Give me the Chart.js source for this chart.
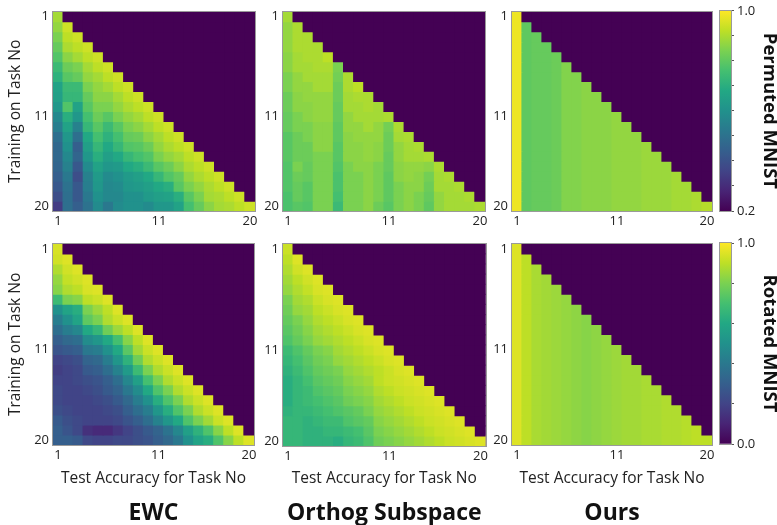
<!DOCTYPE html>
<html>
<head>
<meta charset="utf-8">
<script src="https://cdn.jsdelivr.net/npm/chart.js@4.4.1/dist/chart.umd.min.js"></script>
<style>
  html, body { margin: 0; padding: 0; background: #fff; overflow: hidden; }
  #wrap { position: relative; width: 777px; height: 525px; }
  canvas { position: absolute; }
</style>
</head>
<body>
<div id="wrap"></div>
<script>
// task numbers on both axes
const tasks = ['1','2','3','4','5','6','7','8','9','10','11','12','13','14','15','16','17','18','19','20'];
const shownTicks = ['1', '11', '20'];

// colour ranges of the two rows
const permutedRange = [0.2, 1.0];
const rotatedRange = [0.0, 1.0];

// accuracy matrices: row = training on task i, column = test on task j (j <= i)
const ewcPermuted = [
  [0.89],
  [0.87, 0.94],
  [0.84, 0.92, 0.94],
  [0.81, 0.90, 0.92, 0.94],
  [0.78, 0.86, 0.89, 0.92, 0.94],
  [0.74, 0.82, 0.84, 0.89, 0.92, 0.94],
  [0.71, 0.79, 0.81, 0.87, 0.89, 0.92, 0.94],
  [0.66, 0.74, 0.74, 0.84, 0.87, 0.89, 0.92, 0.94],
  [0.65, 0.73, 0.73, 0.81, 0.86, 0.86, 0.89, 0.92, 0.94],
  [0.62, 0.78, 0.66, 0.79, 0.84, 0.84, 0.87, 0.90, 0.92, 0.94],
  [0.57, 0.70, 0.62, 0.76, 0.82, 0.79, 0.84, 0.87, 0.89, 0.92, 0.94],
  [0.54, 0.66, 0.55, 0.73, 0.79, 0.74, 0.79, 0.84, 0.86, 0.89, 0.92, 0.94],
  [0.49, 0.62, 0.49, 0.68, 0.76, 0.71, 0.76, 0.81, 0.82, 0.86, 0.89, 0.92, 0.94],
  [0.47, 0.60, 0.44, 0.65, 0.73, 0.68, 0.73, 0.78, 0.79, 0.82, 0.87, 0.90, 0.92, 0.94],
  [0.47, 0.57, 0.46, 0.62, 0.70, 0.65, 0.68, 0.73, 0.76, 0.78, 0.84, 0.87, 0.89, 0.92, 0.94],
  [0.46, 0.55, 0.42, 0.58, 0.66, 0.62, 0.63, 0.68, 0.70, 0.74, 0.79, 0.82, 0.86, 0.90, 0.92, 0.94],
  [0.44, 0.52, 0.39, 0.55, 0.63, 0.58, 0.60, 0.63, 0.65, 0.68, 0.73, 0.78, 0.81, 0.87, 0.90, 0.92, 0.94],
  [0.42, 0.50, 0.42, 0.54, 0.62, 0.57, 0.58, 0.62, 0.63, 0.65, 0.68, 0.70, 0.79, 0.84, 0.87, 0.90, 0.92, 0.94],
  [0.39, 0.49, 0.42, 0.52, 0.60, 0.57, 0.57, 0.60, 0.60, 0.63, 0.65, 0.66, 0.70, 0.79, 0.84, 0.89, 0.90, 0.92, 0.94],
  [0.34, 0.49, 0.44, 0.50, 0.58, 0.52, 0.58, 0.60, 0.60, 0.58, 0.62, 0.62, 0.66, 0.76, 0.81, 0.86, 0.89, 0.90, 0.92, 0.94]
];

const orthogPermuted = [
  [0.89],
  [0.87, 0.90],
  [0.87, 0.90, 0.90],
  [0.87, 0.90, 0.90, 0.90],
  [0.86, 0.89, 0.90, 0.90, 0.92],
  [0.86, 0.89, 0.89, 0.90, 0.90, 0.84],
  [0.84, 0.87, 0.89, 0.89, 0.89, 0.83, 0.90],
  [0.84, 0.87, 0.87, 0.89, 0.89, 0.82, 0.90, 0.92],
  [0.82, 0.86, 0.87, 0.87, 0.87, 0.82, 0.89, 0.90, 0.90],
  [0.82, 0.86, 0.86, 0.87, 0.87, 0.81, 0.89, 0.89, 0.90, 0.89],
  [0.81, 0.84, 0.86, 0.87, 0.87, 0.81, 0.87, 0.89, 0.89, 0.89, 0.90],
  [0.81, 0.84, 0.84, 0.86, 0.86, 0.80, 0.87, 0.87, 0.89, 0.87, 0.83, 0.90],
  [0.79, 0.82, 0.84, 0.86, 0.86, 0.80, 0.86, 0.87, 0.87, 0.87, 0.82, 0.89, 0.90],
  [0.79, 0.82, 0.82, 0.86, 0.86, 0.79, 0.86, 0.86, 0.87, 0.86, 0.82, 0.87, 0.89, 0.90],
  [0.79, 0.82, 0.82, 0.84, 0.84, 0.79, 0.86, 0.86, 0.87, 0.86, 0.81, 0.87, 0.89, 0.89, 0.90],
  [0.78, 0.84, 0.81, 0.84, 0.84, 0.78, 0.84, 0.86, 0.86, 0.84, 0.81, 0.86, 0.87, 0.87, 0.86, 0.90],
  [0.78, 0.82, 0.81, 0.84, 0.84, 0.77, 0.84, 0.84, 0.86, 0.84, 0.80, 0.86, 0.87, 0.86, 0.83, 0.89, 0.90],
  [0.78, 0.81, 0.79, 0.84, 0.84, 0.77, 0.84, 0.84, 0.86, 0.84, 0.80, 0.84, 0.86, 0.86, 0.82, 0.89, 0.89, 0.90],
  [0.77, 0.81, 0.79, 0.84, 0.84, 0.76, 0.84, 0.84, 0.86, 0.84, 0.80, 0.84, 0.86, 0.84, 0.81, 0.87, 0.89, 0.89, 0.90],
  [0.77, 0.79, 0.78, 0.84, 0.84, 0.74, 0.84, 0.84, 0.86, 0.82, 0.79, 0.84, 0.86, 0.84, 0.80, 0.87, 0.89, 0.89, 0.89, 0.90]
];

const oursPermuted = [
  [0.98],
  [0.98, 0.80],
  [0.98, 0.80, 0.81],
  [0.98, 0.80, 0.81, 0.81],
  [0.98, 0.80, 0.81, 0.81, 0.82],
  [0.98, 0.80, 0.81, 0.81, 0.82, 0.85],
  [0.98, 0.80, 0.81, 0.81, 0.82, 0.85, 0.85],
  [0.98, 0.80, 0.81, 0.81, 0.82, 0.85, 0.85, 0.86],
  [0.98, 0.80, 0.81, 0.81, 0.82, 0.85, 0.85, 0.86, 0.86],
  [0.98, 0.80, 0.81, 0.81, 0.82, 0.85, 0.85, 0.86, 0.86, 0.86],
  [0.98, 0.80, 0.81, 0.81, 0.82, 0.85, 0.85, 0.86, 0.86, 0.86, 0.87],
  [0.98, 0.80, 0.81, 0.81, 0.82, 0.85, 0.85, 0.86, 0.86, 0.86, 0.87, 0.87],
  [0.98, 0.80, 0.81, 0.81, 0.82, 0.85, 0.85, 0.86, 0.86, 0.86, 0.87, 0.87, 0.87],
  [0.98, 0.80, 0.81, 0.81, 0.82, 0.85, 0.85, 0.86, 0.86, 0.86, 0.87, 0.87, 0.87, 0.88],
  [0.98, 0.80, 0.81, 0.81, 0.82, 0.85, 0.85, 0.86, 0.86, 0.86, 0.87, 0.87, 0.87, 0.88, 0.88],
  [0.98, 0.80, 0.81, 0.81, 0.82, 0.85, 0.85, 0.86, 0.86, 0.86, 0.87, 0.87, 0.87, 0.88, 0.88, 0.88],
  [0.98, 0.80, 0.81, 0.81, 0.82, 0.85, 0.85, 0.86, 0.86, 0.86, 0.87, 0.87, 0.87, 0.88, 0.88, 0.88, 0.89],
  [0.98, 0.80, 0.81, 0.81, 0.82, 0.85, 0.85, 0.86, 0.86, 0.86, 0.87, 0.87, 0.87, 0.88, 0.88, 0.88, 0.89, 0.89],
  [0.98, 0.80, 0.81, 0.81, 0.82, 0.85, 0.85, 0.86, 0.86, 0.86, 0.87, 0.87, 0.87, 0.88, 0.88, 0.88, 0.89, 0.89, 0.90],
  [0.98, 0.80, 0.81, 0.81, 0.82, 0.85, 0.85, 0.86, 0.86, 0.86, 0.87, 0.87, 0.87, 0.88, 0.88, 0.88, 0.89, 0.89, 0.90, 0.91]
];

const ewcRotated = [
  [0.94],
  [0.93, 0.95],
  [0.88, 0.93, 0.95],
  [0.84, 0.91, 0.93, 0.95],
  [0.82, 0.88, 0.90, 0.94, 0.95],
  [0.68, 0.80, 0.82, 0.90, 0.92, 0.95],
  [0.50, 0.58, 0.62, 0.80, 0.85, 0.90, 0.95],
  [0.42, 0.50, 0.58, 0.75, 0.80, 0.88, 0.92, 0.95],
  [0.36, 0.42, 0.46, 0.60, 0.66, 0.78, 0.85, 0.90, 0.95],
  [0.30, 0.34, 0.36, 0.48, 0.52, 0.60, 0.70, 0.82, 0.90, 0.95],
  [0.26, 0.28, 0.30, 0.40, 0.42, 0.50, 0.60, 0.74, 0.86, 0.92, 0.95],
  [0.20, 0.22, 0.24, 0.32, 0.34, 0.42, 0.52, 0.64, 0.78, 0.88, 0.92, 0.95],
  [0.18, 0.20, 0.22, 0.28, 0.30, 0.36, 0.44, 0.54, 0.68, 0.80, 0.88, 0.92, 0.95],
  [0.20, 0.20, 0.22, 0.24, 0.26, 0.30, 0.36, 0.46, 0.56, 0.70, 0.80, 0.88, 0.92, 0.95],
  [0.22, 0.20, 0.20, 0.22, 0.24, 0.28, 0.32, 0.40, 0.48, 0.60, 0.72, 0.80, 0.88, 0.92, 0.95],
  [0.22, 0.20, 0.20, 0.20, 0.22, 0.24, 0.28, 0.34, 0.42, 0.50, 0.62, 0.72, 0.80, 0.88, 0.92, 0.95],
  [0.24, 0.22, 0.20, 0.20, 0.20, 0.22, 0.24, 0.30, 0.36, 0.42, 0.52, 0.62, 0.72, 0.80, 0.88, 0.92, 0.95],
  [0.28, 0.24, 0.22, 0.20, 0.20, 0.20, 0.22, 0.26, 0.30, 0.36, 0.44, 0.52, 0.60, 0.72, 0.80, 0.86, 0.92, 0.95],
  [0.30, 0.26, 0.22, 0.14, 0.12, 0.12, 0.16, 0.20, 0.24, 0.28, 0.32, 0.38, 0.46, 0.56, 0.64, 0.72, 0.82, 0.90, 0.95],
  [0.30, 0.30, 0.28, 0.22, 0.20, 0.20, 0.22, 0.22, 0.24, 0.26, 0.30, 0.34, 0.40, 0.50, 0.58, 0.62, 0.72, 0.82, 0.90, 0.95]
];

const orthogRotated = [
  [0.92],
  [0.90, 0.95],
  [0.88, 0.93, 0.95],
  [0.86, 0.90, 0.93, 0.95],
  [0.84, 0.88, 0.91, 0.94, 0.95],
  [0.80, 0.86, 0.88, 0.92, 0.94, 0.95],
  [0.78, 0.84, 0.86, 0.90, 0.92, 0.94, 0.95],
  [0.76, 0.80, 0.84, 0.88, 0.90, 0.92, 0.94, 0.95],
  [0.74, 0.78, 0.82, 0.86, 0.88, 0.90, 0.92, 0.94, 0.95],
  [0.72, 0.76, 0.80, 0.84, 0.86, 0.88, 0.90, 0.92, 0.94, 0.95],
  [0.68, 0.72, 0.76, 0.80, 0.82, 0.86, 0.88, 0.90, 0.92, 0.94, 0.95],
  [0.66, 0.70, 0.74, 0.78, 0.80, 0.84, 0.86, 0.88, 0.90, 0.92, 0.94, 0.95],
  [0.64, 0.68, 0.72, 0.76, 0.78, 0.80, 0.84, 0.86, 0.88, 0.90, 0.92, 0.94, 0.95],
  [0.62, 0.66, 0.70, 0.74, 0.76, 0.78, 0.82, 0.84, 0.86, 0.90, 0.92, 0.93, 0.94, 0.95],
  [0.62, 0.66, 0.68, 0.72, 0.74, 0.76, 0.80, 0.82, 0.84, 0.88, 0.90, 0.92, 0.93, 0.94, 0.95],
  [0.62, 0.66, 0.68, 0.70, 0.72, 0.74, 0.78, 0.80, 0.82, 0.86, 0.88, 0.90, 0.92, 0.93, 0.94, 0.95],
  [0.64, 0.66, 0.66, 0.68, 0.70, 0.72, 0.74, 0.76, 0.80, 0.84, 0.86, 0.88, 0.90, 0.92, 0.93, 0.94, 0.95],
  [0.66, 0.66, 0.64, 0.66, 0.68, 0.68, 0.72, 0.74, 0.76, 0.82, 0.84, 0.86, 0.88, 0.90, 0.92, 0.93, 0.94, 0.95],
  [0.66, 0.66, 0.64, 0.64, 0.66, 0.66, 0.68, 0.70, 0.74, 0.80, 0.82, 0.84, 0.86, 0.88, 0.90, 0.92, 0.93, 0.94, 0.95],
  [0.66, 0.66, 0.64, 0.64, 0.64, 0.62, 0.66, 0.68, 0.72, 0.78, 0.80, 0.82, 0.84, 0.86, 0.88, 0.90, 0.92, 0.93, 0.94, 0.95]
];

const oursRotated = [
  [0.95],
  [0.95, 0.90],
  [0.95, 0.90, 0.87],
  [0.95, 0.90, 0.87, 0.86],
  [0.95, 0.90, 0.87, 0.86, 0.85],
  [0.95, 0.90, 0.87, 0.86, 0.85, 0.84],
  [0.95, 0.90, 0.87, 0.86, 0.85, 0.84, 0.83],
  [0.95, 0.90, 0.87, 0.86, 0.85, 0.84, 0.83, 0.82],
  [0.95, 0.90, 0.87, 0.86, 0.85, 0.84, 0.83, 0.82, 0.83],
  [0.95, 0.90, 0.87, 0.86, 0.85, 0.84, 0.83, 0.82, 0.83, 0.84],
  [0.95, 0.90, 0.87, 0.86, 0.85, 0.84, 0.83, 0.82, 0.83, 0.84, 0.85],
  [0.95, 0.90, 0.87, 0.86, 0.85, 0.84, 0.83, 0.82, 0.83, 0.84, 0.85, 0.86],
  [0.95, 0.90, 0.87, 0.86, 0.85, 0.84, 0.83, 0.82, 0.83, 0.84, 0.85, 0.86, 0.86],
  [0.95, 0.90, 0.87, 0.86, 0.85, 0.84, 0.83, 0.82, 0.83, 0.84, 0.85, 0.86, 0.86, 0.87],
  [0.95, 0.90, 0.87, 0.86, 0.85, 0.84, 0.83, 0.82, 0.83, 0.84, 0.85, 0.86, 0.86, 0.87, 0.87],
  [0.95, 0.90, 0.87, 0.86, 0.85, 0.84, 0.83, 0.82, 0.83, 0.84, 0.85, 0.86, 0.86, 0.87, 0.87, 0.88],
  [0.95, 0.90, 0.87, 0.86, 0.85, 0.84, 0.83, 0.82, 0.83, 0.84, 0.85, 0.86, 0.86, 0.87, 0.87, 0.88, 0.88],
  [0.95, 0.90, 0.87, 0.86, 0.85, 0.84, 0.83, 0.82, 0.83, 0.84, 0.85, 0.86, 0.86, 0.87, 0.87, 0.88, 0.88, 0.89],
  [0.95, 0.90, 0.87, 0.86, 0.85, 0.84, 0.83, 0.82, 0.83, 0.84, 0.85, 0.86, 0.86, 0.87, 0.87, 0.88, 0.88, 0.89, 0.90],
  [0.95, 0.90, 0.87, 0.86, 0.85, 0.84, 0.83, 0.82, 0.83, 0.84, 0.85, 0.86, 0.86, 0.87, 0.87, 0.88, 0.88, 0.89, 0.90, 0.90]
];

// viridis colour map
const viridisStops = ['#440154','#482475','#414487','#355f8d','#2a788e','#21918c','#22a884','#44bf70','#7ad151','#bddf26','#fde725'];
function hexRgb(h) {
  return [parseInt(h.slice(1,3),16), parseInt(h.slice(3,5),16), parseInt(h.slice(5,7),16)];
}
function viridis(t) {
  t = Math.min(1, Math.max(0, t));
  const p = t * 10;
  const i = Math.min(9, Math.floor(p));
  const f = p - i;
  const a = hexRgb(viridisStops[i]), b = hexRgb(viridisStops[i + 1]);
  const c = a.map((v, k) => Math.round(v + (b[k] - v) * f));
  return 'rgb(' + c.join(',') + ')';
}
function cellColor(v, range) {
  if (v === undefined || v === null) return viridis(0);
  return viridis((v - range[0]) / (range[1] - range[0]));
}

Chart.defaults.font.family = "'Open Sans', sans-serif";
Chart.defaults.color = '#222';
Chart.defaults.animation = false;
Chart.defaults.plugins.legend.display = false;
Chart.defaults.plugins.tooltip.enabled = false;

// dark fill behind the cells, thin grey frame round the plotting area
const framePlugin = {
  id: 'frame',
  beforeDatasetsDraw(chart, args, opts) {
    if (!opts.fill) return;
    const a = chart.chartArea, c = chart.ctx;
    c.save();
    c.fillStyle = opts.fill;
    c.fillRect(a.left, a.top, a.right - a.left, a.bottom - a.top);
    c.restore();
  },
  afterDatasetsDraw(chart) {
    const a = chart.chartArea, c = chart.ctx;
    c.save();
    c.strokeStyle = '#9a9a9a';
    c.lineWidth = 1;
    c.strokeRect(Math.round(a.left) - 0.5, Math.round(a.top) - 0.5, Math.round(a.right - a.left) + 1, Math.round(a.bottom - a.top) + 1);
    c.restore();
  }
};

const wrap = document.getElementById('wrap');
function addCanvas(left, top, w, h) {
  const cv = document.createElement('canvas');
  cv.width = w; cv.height = h;
  cv.style.left = left + 'px'; cv.style.top = top + 'px';
  cv.style.width = w + 'px'; cv.style.height = h + 'px';
  wrap.appendChild(cv);
  return cv;
}

function heatmap(p) {
  const cv = addCanvas(p.left, p.top, p.w, p.h);
  const datasets = tasks.map((t, r) => ({
    data: tasks.map(() => 1),
    backgroundColor: tasks.map((c, j) => cellColor(p.matrix[r][j], p.range)),
    borderWidth: 0,
    inflateAmount: 0.6,
    barPercentage: 1,
    categoryPercentage: 1
  }));
  return new Chart(cv, {
    type: 'bar',
    data: { labels: tasks, datasets: datasets },
    options: {
      responsive: false,
      devicePixelRatio: 1,
      layout: { padding: { top: p.padTop, right: p.padRight, left: 0, bottom: 0 } },
      plugins: {
        frame: { fill: viridis(0) },
        title: {
          display: !!p.method,
          text: p.method || '',
          position: 'bottom',
          fullSize: false,
          color: '#111',
          font: { size: 23, weight: 'bold', lineHeight: 1 },
          padding: 0
        }
      },
      scales: {
        x: {
          stacked: true,
          grid: { display: false, drawTicks: false },
          border: { display: false },
          ticks: {
            autoSkip: false, maxRotation: 0, padding: 2,
            font: { size: 13 }, color: '#222',
            callback: (v, i) => shownTicks.includes(tasks[i]) ? tasks[i] : ''
          },
          title: {
            display: !!p.xTitle, text: p.xTitle || '',
            font: { size: 15.5 }, color: '#222',
            padding: { top: 0, bottom: 14 }
          },
          afterFit: s => { s.height = p.xHeight; }
        },
        y: {
          stacked: true,
          reverse: true,
          min: 0, max: tasks.length,
          grid: { display: false, drawTicks: false },
          border: { display: false },
          afterBuildTicks: s => { s.ticks = shownTicks.map(t => ({ value: Number(t) - 0.5 })); },
          ticks: {
            padding: 4, font: { size: 13 }, color: '#222',
            callback: v => String(v + 0.5)
          },
          title: {
            display: !!p.yTitle, text: p.yTitle || '',
            font: { size: 15.5 }, color: '#222',
            padding: { top: 6, bottom: 0 }
          },
          afterFit: s => { s.width = p.yWidth; }
        }
      }
    },
    plugins: [framePlugin]
  });
}

function colorbar(p) {
  const cv = addCanvas(p.left, p.top, p.w, p.h);
  return new Chart(cv, {
    type: 'bar',
    data: {
      labels: [''],
      datasets: [{
        data: [[p.range[0], p.range[1]]],
        borderWidth: 0,
        barPercentage: 1,
        categoryPercentage: 1,
        backgroundColor: ctx => {
          const ch = ctx.chart;
          if (!ch.chartArea) return viridis(0.5);
          const ys = ch.scales.y;
          const g = ch.ctx.createLinearGradient(0, ys.getPixelForValue(p.range[0]), 0, ys.getPixelForValue(p.range[1]));
          viridisStops.forEach((c, i) => g.addColorStop(i / 10, c));
          return g;
        }
      }]
    },
    options: {
      responsive: false,
      devicePixelRatio: 1,
      layout: { padding: { top: p.padTop, bottom: p.padBottom, left: p.padLeft, right: 0 } },
      plugins: { frame: { fill: null } },
      scales: {
        x: { display: false },
        y: {
          position: 'right',
          min: p.range[0], max: p.range[1],
          grid: { drawOnChartArea: false, drawTicks: true, tickLength: 3, color: '#555' },
          border: { display: false },
          ticks: {
            stepSize: p.step, padding: 3, font: { size: 13 }, color: '#222',
            callback: v => (Math.abs(v - p.range[0]) < 1e-6 || Math.abs(v - p.range[1]) < 1e-6) ? v.toFixed(1) : ''
          },
          title: {
            display: true, text: p.label,
            font: { size: 18.5, weight: 'bold', lineHeight: 1 }, color: '#111',
            padding: { top: -2, bottom: 0 }
          },
          afterFit: s => { s.width = 46; }
        }
      }
    },
    plugins: [framePlugin]
  });
}

// top row: Permuted MNIST
heatmap({ left: 0, top: 0, w: 262, h: 232, padTop: 7, padRight: 7, yWidth: 53, xHeight: 21,
  matrix: ewcPermuted, range: permutedRange, yTitle: 'Training on Task No' });
heatmap({ left: 262, top: 0, w: 228, h: 232, padTop: 10, padRight: 5, yWidth: 21, xHeight: 21,
  matrix: orthogPermuted, range: permutedRange });
heatmap({ left: 490, top: 0, w: 228, h: 232, padTop: 10, padRight: 6, yWidth: 22, xHeight: 21,
  matrix: oursPermuted, range: permutedRange });
colorbar({ left: 712, top: 0, w: 65, h: 232, padTop: 10, padBottom: 21, padLeft: 8,
  range: permutedRange, step: 0.1, label: 'Permuted MNIST' });

// bottom row: Rotated MNIST
heatmap({ left: 0, top: 232, w: 262, h: 293, padTop: 11, padRight: 8, yWidth: 53, xHeight: 57,
  matrix: ewcRotated, range: rotatedRange, yTitle: 'Training on Task No',
  xTitle: 'Test Accuracy for Task No', method: 'EWC' });
heatmap({ left: 262, top: 232, w: 228, h: 293, padTop: 11, padRight: 4, yWidth: 21, xHeight: 56,
  matrix: orthogRotated, range: rotatedRange,
  xTitle: 'Test Accuracy for Task No', method: 'Orthog Subspace' });
heatmap({ left: 490, top: 232, w: 228, h: 293, padTop: 11, padRight: 6, yWidth: 22, xHeight: 57,
  matrix: oursRotated, range: rotatedRange,
  xTitle: 'Test Accuracy for Task No', method: 'Ours' });
colorbar({ left: 712, top: 232, w: 65, h: 293, padTop: 11, padBottom: 81, padLeft: 8,
  range: rotatedRange, step: 0.2, label: 'Rotated MNIST' });
</script>
</body>
</html>
